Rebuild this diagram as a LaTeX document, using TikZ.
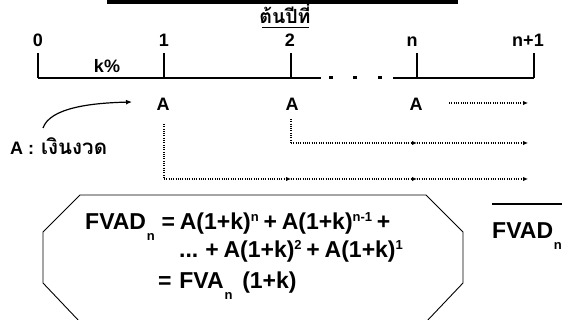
\documentclass[tikz,border=0pt]{standalone}
\usepackage{fontspec}
\setmainfont{Liberation Sans}
\newfontfamily\thaifont[Script=Thai]{Loma}
\newfontfamily\formfont[WordSpace=0.75]{Liberation Sans}
\usetikzlibrary{arrows.meta}

% raised / lowered small indices for the formula
\newcommand{\upidx}[1]{\raisebox{0.36em}{\fontsize{13}{13}\selectfont #1}}
\newcommand{\dnidx}[1]{\hspace{0.8pt}\raisebox{-0.45em}{\fontsize{13}{13}\selectfont #1}}

\begin{document}
\begin{tikzpicture}[x=1pt,y=-1pt,
  lbl/.style={font=\bfseries\fontsize{18}{18}\selectfont, inner sep=0pt, anchor=base},
  formula/.style={font=\formfont\bfseries\fontsize{23}{23}\selectfont, inner sep=0pt, anchor=base west},
  axis/.style={line width=1.6pt},
  flow/.style={line width=1.1pt, dash pattern=on 1pt off 1.3pt,
               -{Latex[length=5pt,width=4.5pt]}},
  trail/.style={line width=1.1pt, dash pattern=on 1pt off 1.3pt},
  frame/.style={line width=0.9pt},
]
\clip (0,0) rectangle (562,320);

% title bar
\fill (107,0) rectangle (458,4);

% heading
\node[font=\thaifont\bfseries\fontsize{19.5}{19.5}\selectfont, inner sep=0pt, anchor=base]
  (head) at (285,24) {ต้นปีที่};
\draw[line width=1.5pt] (262,27.5) -- (309,27.5);

% time line
\coordinate (t0) at (38,78);
\coordinate (t1) at (164,78);
\coordinate (t2) at (291,78);
\coordinate (tn) at (417,78);
\coordinate (tm) at (534,78);
\coordinate (gapL) at (321,78);
\coordinate (gapR) at (393,78);
\draw[axis] (t0) -- (gapL);
\draw[axis] (gapR) -- (tm);
\foreach \p in {t0,t1,t2,tn,tm} \draw[axis] (\p) -- ++(0,-25);
\foreach \x in {331,355,380} \fill (\x-1.7,75.6) rectangle (\x+1.7,79);

% period labels
\node[lbl] (l0) at (38,47) {0};
\node[lbl] (l1) at (164,47) {1};
\node[lbl] (l2) at (290,47) {2};
\node[lbl] (ln) at (412,47) {n};
\node[lbl] (lm) at (528,47) {n+1};
\node[lbl] (rate) at (107,73) {k\%};

% payments
\node[lbl] (A1) at (163,111) {A};
\node[lbl] (A2) at (292,111) {A};
\node[lbl] (An) at (416,111) {A};
\node[lbl, anchor=base west] (key) at (10,155)
  {A :\hspace{2pt} {\thaifont\bfseries\fontsize{20.5}{20.5}\selectfont เงินงวด}};

\coordinate (c0) at (43,128);
\coordinate (c1) at (132,102);
\draw[line width=1.2pt, -{Latex[length=6pt,width=5pt]}]
  (c0) .. controls (50,108) and (90,103) .. (c1);

% compounding paths
\coordinate (e0) at (528,103);
\coordinate (s0) at (449,103);
\draw[flow] (s0) -- (e0);

\coordinate (v2) at (291,119);
\coordinate (b2) at (291,143);
\coordinate (m2) at (417,143);
\coordinate (e2) at (528,143);
\draw[trail] (v2) -- (b2);
\draw[flow] (b2) -- (m2);
\draw[flow] (m2) -- (e2);

\coordinate (v1) at (164,124);
\coordinate (b1) at (164,179);
\coordinate (m1a) at (291,179);
\coordinate (m1b) at (417,179);
\coordinate (e1) at (528,179);
\draw[trail] (v1) -- (b1);
\draw[flow] (b1) -- (m1a);
\draw[flow] (m1a) -- (m1b);
\draw[flow] (m1b) -- (e1);

% formula frame
\draw[frame] (80,195) -- (426,195) -- (463,232) -- (463,283) -- (426,322)
  -- (80,322) -- (43,283) -- (43,232) -- cycle;
\node[formula] (f1) at (85,230) {FVAD\dnidx{n}\hspace{2pt} = A(1+k)\upidx{n} + A(1+k)\upidx{n-1} +};
\node[formula] (f2) at (179,258) {... + A(1+k)\upidx{2} + A(1+k)\upidx{1}};
\node[formula] (f3) at (158,289) {=\hspace{3pt} FVA\dnidx{n}\hspace{5pt} (1+k)};

% next expression, running off the edge
\node[formula] (g1) at (492,239) {FVAD\dnidx{n}};
\draw[line width=2.5pt] (492,204) -- (566,204);
\end{tikzpicture}
\end{document}
